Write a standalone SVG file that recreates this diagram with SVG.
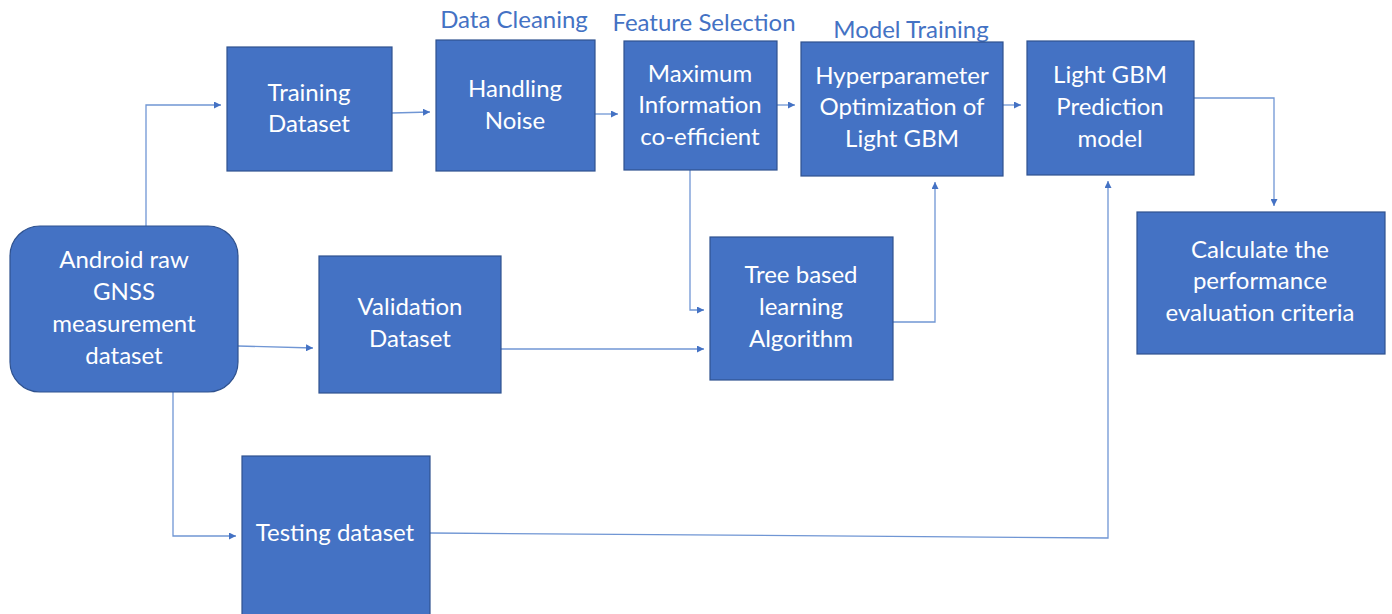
<svg xmlns="http://www.w3.org/2000/svg" width="1392" height="614" viewBox="0 0 1392 614">
<style>
.box{fill:#4472C4;stroke:#2F528F;stroke-width:1.2}
.t{font-family:Lato,"Open Sans",sans-serif;font-size:24px;fill:#ffffff;text-anchor:middle}
.lbl{font-family:Lato,"Open Sans",sans-serif;font-size:24px;fill:#4472C4;text-anchor:middle}
.c{fill:none;stroke:#7096d4;stroke-width:1.3}
</style>
<defs>
<marker id="ah" viewBox="0 0 10 10" refX="10" refY="5" markerWidth="7" markerHeight="7" markerUnits="userSpaceOnUse" orient="auto">
<path d="M0,0 L10,5 L0,10 z" fill="#4472C4"/>
</marker>
</defs>
<rect width="1392" height="614" fill="#ffffff"/>
<g id="labels">
<text class="lbl" x="514" y="28">Data Cleaning</text>
<text class="lbl" x="704" y="31">Feature Selection</text>
<text class="lbl" x="911" y="38">Model Training</text>
</g>
<g id="connectors">
<path class="c" d="M146,226 V105 H221" marker-end="url(#ah)"/>
<path class="c" d="M392,113 L430,112" marker-end="url(#ah)"/>
<path class="c" d="M595,114 H618" marker-end="url(#ah)"/>
<path class="c" d="M777,105 H795" marker-end="url(#ah)"/>
<path class="c" d="M1003,105 H1021" marker-end="url(#ah)"/>
<path class="c" d="M1194,98 H1274 V206" marker-end="url(#ah)"/>
<path class="c" d="M690,170 V310 H704" marker-end="url(#ah)"/>
<path class="c" d="M501,349 H704" marker-end="url(#ah)"/>
<path class="c" d="M893,322 H935 V182" marker-end="url(#ah)"/>
<path class="c" d="M238,346 L313,348" marker-end="url(#ah)"/>
<path class="c" d="M173,392 V536 H236" marker-end="url(#ah)"/>
<path class="c" d="M430,533 L1108,538 V181" marker-end="url(#ah)"/>
</g>
<g id="android">
<rect class="box" x="10" y="226" width="228" height="166" rx="30"/>
<text class="t" x="124" y="268">Android raw</text>
<text class="t" x="124" y="300">GNSS</text>
<text class="t" x="124" y="332">measurement</text>
<text class="t" x="124" y="364">dataset</text>
</g>
<g id="training">
<rect class="box" x="227" y="47" width="165" height="124"/>
<text class="t" x="309" y="101">Training</text>
<text class="t" x="309" y="132">Dataset</text>
</g>
<g id="handling">
<rect class="box" x="436" y="40" width="159" height="131"/>
<text class="t" x="515" y="97">Handling</text>
<text class="t" x="515" y="129">Noise</text>
</g>
<g id="mic">
<rect class="box" x="624" y="41" width="153" height="129"/>
<text class="t" x="700" y="82">Maximum</text>
<text class="t" x="700" y="113">Information</text>
<text class="t" x="700" y="145">co-efficient</text>
</g>
<g id="hyper">
<rect class="box" x="801" y="42" width="202" height="134"/>
<text class="t" x="902" y="84">Hyperparameter</text>
<text class="t" x="902" y="115">Optimization of</text>
<text class="t" x="902" y="147">Light GBM</text>
</g>
<g id="lgbm">
<rect class="box" x="1027" y="41" width="167" height="134"/>
<text class="t" x="1110" y="83">Light GBM</text>
<text class="t" x="1110" y="115">Prediction</text>
<text class="t" x="1110" y="147">model</text>
</g>
<g id="calc">
<rect class="box" x="1137" y="212" width="248" height="142"/>
<text class="t" x="1260" y="258">Calculate the</text>
<text class="t" x="1260" y="289">performance</text>
<text class="t" x="1260" y="321">evaluation criteria</text>
</g>
<g id="tree">
<rect class="box" x="710" y="237" width="183" height="143"/>
<text class="t" x="801" y="283">Tree based</text>
<text class="t" x="801" y="315">learning</text>
<text class="t" x="801" y="347">Algorithm</text>
</g>
<g id="validation">
<rect class="box" x="319" y="256" width="182" height="137"/>
<text class="t" x="410" y="315">Validation</text>
<text class="t" x="410" y="347">Dataset</text>
</g>
<g id="testing">
<rect class="box" x="242" y="456" width="188" height="160"/>
<text class="t" x="335" y="541">Testing dataset</text>
</g>
</svg>
